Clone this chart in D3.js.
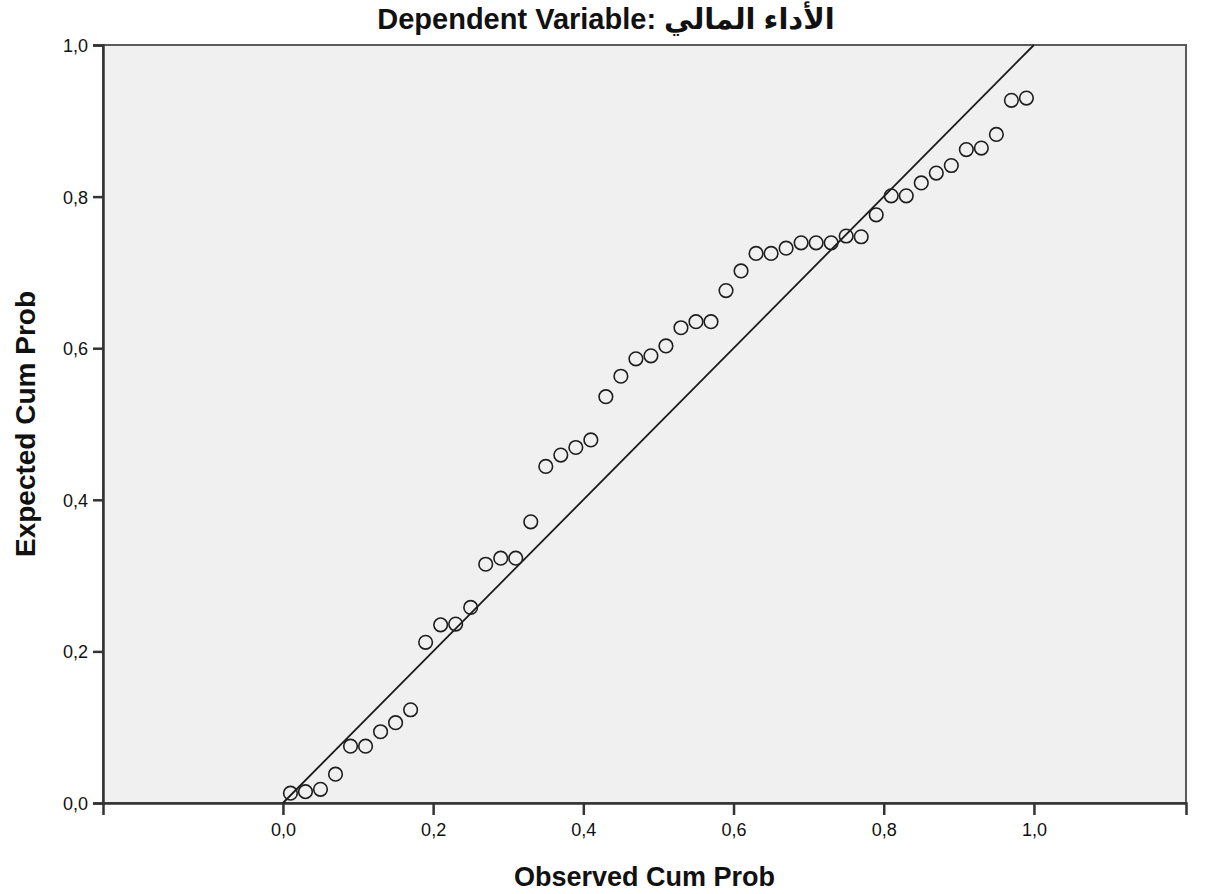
<!DOCTYPE html>
<html>
<head>
<meta charset="utf-8">
<script src="https://cdn.jsdelivr.net/npm/d3@7/dist/d3.min.js"></script>
<style>
  body { margin: 0; background: #ffffff; }
  svg { display: block; }
</style>
</head>
<body>
<div id="chart"></div>
<script>
// chart data
var titleText = "Dependent Variable: الأداء المالي";
var xLabel = "Observed Cum Prob";
var yLabel = "Expected Cum Prob";
var tickValues = [0, 0.2, 0.4, 0.6, 0.8, 1.0];
// observed cumulative probability of each case (50 cases)
var observed = [
  0.01, 0.03, 0.05, 0.07, 0.09, 0.11, 0.13, 0.15, 0.17, 0.19,
  0.21, 0.23, 0.25, 0.27, 0.29, 0.31, 0.33, 0.35, 0.37, 0.39,
  0.41, 0.43, 0.45, 0.47, 0.49, 0.51, 0.53, 0.55, 0.57, 0.59,
  0.61, 0.63, 0.65, 0.67, 0.69, 0.71, 0.73, 0.75, 0.77, 0.79,
  0.81, 0.83, 0.85, 0.87, 0.89, 0.91, 0.93, 0.95, 0.97, 0.99
];
// expected cumulative probability
var expected = [
  0.013, 0.015, 0.018, 0.038, 0.075, 0.075, 0.094, 0.106, 0.123, 0.212,
  0.235, 0.236, 0.258, 0.315, 0.323, 0.323, 0.371, 0.444, 0.459, 0.469,
  0.479, 0.536, 0.563, 0.586, 0.590, 0.603, 0.627, 0.635, 0.635, 0.676,
  0.702, 0.725, 0.725, 0.732, 0.739, 0.739, 0.739, 0.748, 0.747, 0.776,
  0.801, 0.801, 0.818, 0.831, 0.841, 0.862, 0.864, 0.882, 0.927, 0.930
];

var W = 1216, H = 894;
var plot = { left: 103, right: 1186, top: 45, bottom: 803 };

var svg = d3.select("#chart").append("svg")
  .attr("width", W).attr("height", H);

// scales
var x = d3.scaleLinear().domain([-0.2396, 1.2025]).range([plot.left, plot.right]);
var y = d3.scaleLinear().domain([0, 1]).range([plot.bottom, plot.top]);

var fmt = function(d) { return d3.format(".1f")(d).replace(".", ","); };
var font = "'Liberation Sans', Arial, sans-serif";

// plot background
svg.append("rect")
  .attr("x", plot.left).attr("y", plot.top)
  .attr("width", plot.right - plot.left).attr("height", plot.bottom - plot.top)
  .attr("fill", "#f0f0f0")
  .attr("stroke", "#5a5a5a")
  .attr("stroke-width", 2);

// axes
var xAxis = svg.append("g")
  .attr("transform", "translate(0," + plot.bottom + ")")
  .call(d3.axisBottom(x).tickValues(tickValues).tickFormat(fmt).tickSize(12).tickPadding(8));
var yAxis = svg.append("g")
  .attr("transform", "translate(" + plot.left + ",0)")
  .call(d3.axisLeft(y).tickValues(tickValues).tickFormat(fmt).tickSize(10).tickPadding(5));

[xAxis, yAxis].forEach(function(a) {
  a.select(".domain").attr("stroke", "#333").attr("stroke-width", 2.5);
  a.selectAll(".tick line").attr("stroke", "#333").attr("stroke-width", 2.5);
  a.selectAll(".tick text")
    .attr("fill", "#111")
    .style("font-family", font)
    .style("font-size", "18px");
});
yAxis.selectAll(".tick text").attr("dy", "0.36em");

// diagonal reference line
svg.append("line")
  .attr("x1", x(0)).attr("y1", y(0))
  .attr("x2", x(1)).attr("y2", y(1))
  .attr("stroke", "#1a1a1a")
  .attr("stroke-width", 1.8);

// points
svg.append("g").selectAll("circle")
  .data(observed)
  .enter()
  .append("circle")
  .attr("cx", function(d) { return x(d); })
  .attr("cy", function(d, i) { return y(expected[i]); })
  .attr("r", 6.8)
  .attr("fill", "none")
  .attr("stroke", "#1e1e1e")
  .attr("stroke-width", 1.6);

// title
svg.append("text")
  .attr("x", 606).attr("y", 29)
  .attr("text-anchor", "middle")
  .style("font-family", "'Liberation Sans', 'DejaVu Sans', Arial, sans-serif")
  .style("font-weight", "bold")
  .style("font-size", "29px")
  .attr("fill", "#111")
  .text(titleText);

// x axis title
svg.append("text")
  .attr("x", (plot.left + plot.right) / 2).attr("y", 886)
  .attr("text-anchor", "middle")
  .style("font-family", font)
  .style("font-weight", "bold")
  .style("font-size", "27px")
  .attr("fill", "#111")
  .text(xLabel);

// y axis title
svg.append("text")
  .attr("transform", "translate(35," + ((plot.top + plot.bottom) / 2) + ") rotate(-90)")
  .attr("text-anchor", "middle")
  .style("font-family", font)
  .style("font-weight", "bold")
  .style("font-size", "28px")
  .attr("fill", "#111")
  .text(yLabel);
</script>
</body>
</html>
